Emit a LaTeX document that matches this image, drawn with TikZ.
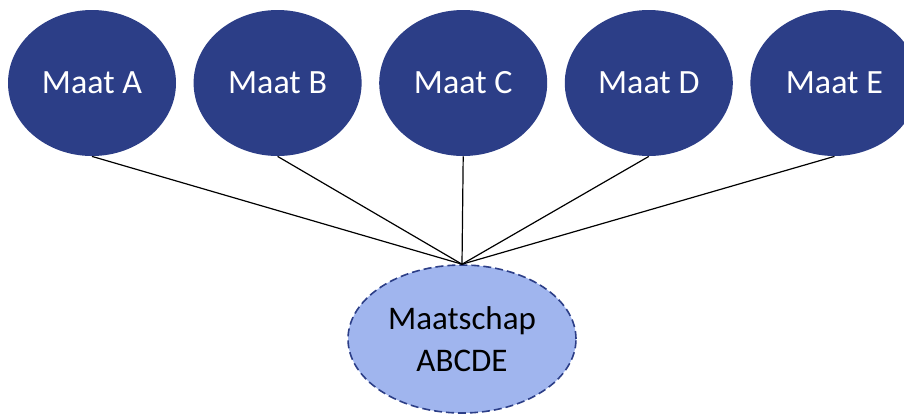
\documentclass[tikz,border=0pt]{standalone}
\usepackage{fontspec}
\setmainfont{Carlito}
\usepackage{tikz}
\usetikzlibrary{shapes.geometric}
\usetikzlibrary{positioning, calc}
\definecolor{maatblue}{HTML}{2C3E87}
\definecolor{firmblue}{HTML}{A0B5EE}
\tikzset{
    partner/.style = {ellipse, inner sep=0pt, text centered, fill=maatblue,
        text=white, minimum width=84pt, minimum height=73pt,
        font=\fontsize{17}{20}\selectfont},
    firm/.style = {ellipse, inner sep=0pt, align=center, fill=firmblue,
        draw=maatblue, dash pattern=on 4pt off 2pt, line width=0.8pt, text=black,
        minimum width=114pt, minimum height=74pt,
        font=\fontsize{16.5}{21}\selectfont},
    link/.style = {draw=black, line width=0.6pt},
}

\begin{document}
\begin{tikzpicture}[x=0.5pt,y=-0.5pt]
        \useasboundingbox (0,0) rectangle (904,414);
        \node [partner] (maatA) at (92,83) {Maat A};
        \node [partner, right=8.4pt of maatA] (maatB) {Maat B};
        \node [partner, right=8.4pt of maatB] (maatC) {Maat C};
        \node [partner, right=8.4pt of maatC] (maatD) {Maat D};
        \node [partner, right=8.4pt of maatD] (maatE) {Maat E};
        \node [firm] (maatschap) at (462,339) {Maatschap\\ABCDE};
        \foreach \m in {A,B,C,D,E}
            \draw [link] (maat\m.south) -- (maatschap.north);
        \end{tikzpicture}
\end{document}
